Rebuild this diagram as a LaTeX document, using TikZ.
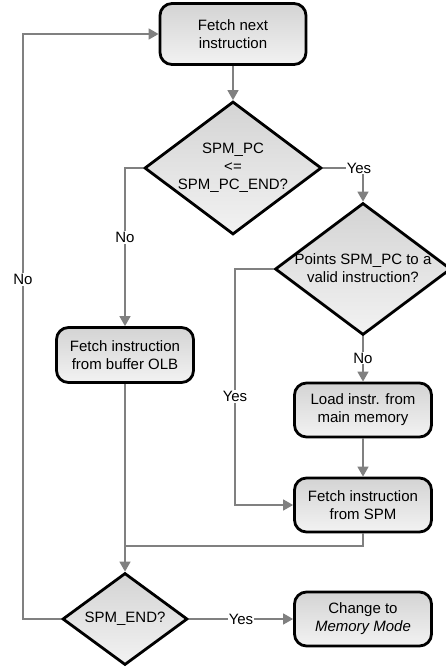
\documentclass[tikz,border=0pt]{standalone}
\usepackage{fontspec}
\setmainfont{Liberation Sans}
\usetikzlibrary{shapes.geometric,arrows.meta}
\begin{document}
\begin{tikzpicture}[x=1pt,y=-1pt,
  font=\fontsize{15}{18}\selectfont,
  procbox/.style={draw=black,line width=2.8pt,rounded corners=12pt,
    top color=black!17,bottom color=black!5,
    minimum width=137pt,minimum height=55pt,inner sep=0pt,align=center},
  decbox/.style={diamond,draw=black,line width=2.8pt,
    top color=black!17,bottom color=black!5,inner sep=0pt},
  dectext/.style={align=center,inner sep=0pt},
  conn/.style={draw=black!50,line width=1.6pt},
  arr/.style={conn,-{Triangle[length=10pt,width=11pt]}},
  lbl/.style={fill=white,inner sep=1pt}
]
\useasboundingbox (0,0) rectangle (445,667);

\node[procbox,minimum width=146pt,minimum height=61pt] (fetch) at (233,34) {Fetch next\\instruction};
\node[decbox,minimum width=177pt,minimum height=133pt] (d1) at (233,168) {};
\node[dectext] (d1t) at (233,168) {SPM\_PC\\<=\\SPM\_PC\_END?};
\node[decbox,minimum width=176pt,minimum height=132pt] (d2) at (363,269) {};
\node[dectext] (d2t) at (363,268) {Points SPM\_PC to a\\valid instruction?};
\node[procbox] (olb) at (125,355) {Fetch instruction\\from buffer OLB};
\node[procbox,minimum height=54pt] (load) at (363,410) {Load instr. from\\main memory};
\node[procbox,minimum height=54pt] (spm) at (363,505) {Fetch instruction\\from SPM};
\node[decbox,minimum width=125pt,minimum height=92pt] (d3) at (125,619) {};
\node[dectext] (d3t) at (125,619) {SPM\_END?};
\node[procbox,minimum height=54pt] (chg) at (363,619) {Change to\\\textit{Memory Mode}};

\coordinate (j1) at (125,546);
\node[inner sep=1pt] (y1) at (359,168) {Yes};

% fetch -> d1
\draw[arr] (fetch.south) -- (d1.north);
% d1 yes -> d2
\draw[conn] (d1.east) -- (y1.west);
\draw[arr] (y1.south -| d2.north) -- (d2.north);
% d1 no -> olb
\draw[arr] (d1.west) -| node[lbl,pos=0.72] (n1) {No} (olb.north);
% d2 no -> load
\draw[arr] (d2.south) -- node[lbl,pos=0.48] (n2) {No} (load.north);
% d2 yes -> spm
\draw[arr] (d2.west) -- (235,269) -- node[lbl,pos=0.54] (y2) {Yes} (235,505) -- (spm.west);
% load -> spm
\draw[arr] (load.south) -- (spm.north);
% spm -> join
\draw[conn] (spm.south) |- (j1);
% olb -> d3
\draw[arr] (olb.south) -- (d3.north);
% d3 yes -> chg
\draw[arr] (d3.east) -- node[lbl,pos=0.5] (y3) {Yes} (chg.west);
% d3 no -> fetch
\draw[arr] (d3.west) -- (23,619) -- node[lbl,pos=0.58] (n3) {No} (23,34) -- (fetch.west);
\end{tikzpicture}
\end{document}
